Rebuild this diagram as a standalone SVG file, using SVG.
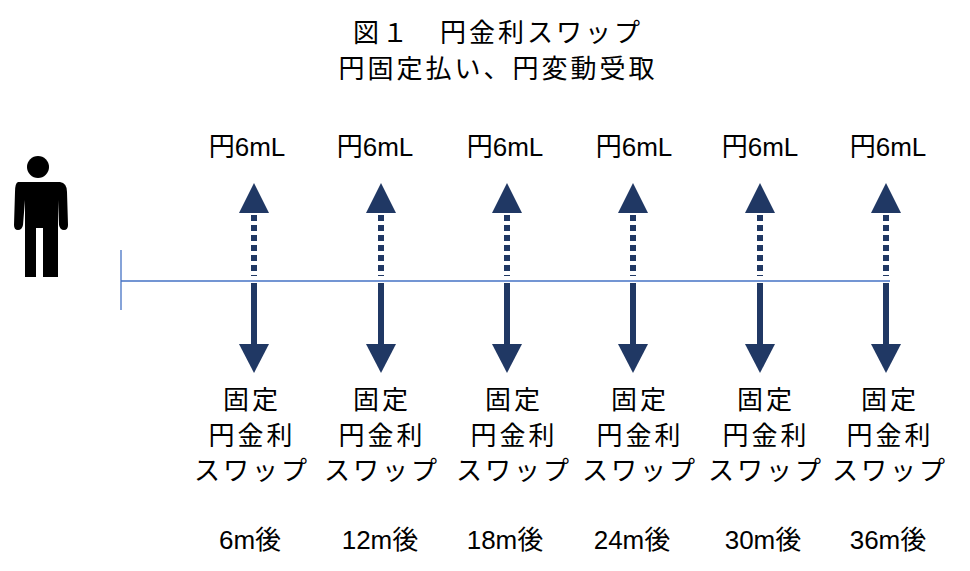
<svg xmlns="http://www.w3.org/2000/svg" width="970" height="571" viewBox="0 0 970 571">
<style>
text{font-family:"Liberation Sans","Noto Sans CJK JP",sans-serif;font-size:26px;fill:#000;text-anchor:middle}
.j{letter-spacing:3px}
.ar{fill:#203864}
.dash{stroke:#203864;stroke-width:6;stroke-dasharray:6,4}
.sol{stroke:#203864;stroke-width:6}
</style>
<rect width="970" height="571" fill="#fff"/>
<g id="title"><text class="j" x="498" y="42">図１　円金利スワップ</text><text class="j" x="498" y="78">円固定払い、円変動受取</text></g>
<g id="person" fill="#000">
<circle cx="38" cy="167" r="11"/>
<path d="M18 182 H60 Q67 183 67 192 L68 225 Q68 230 64 230 Q60 230 59 225 L58 200 V277 H43 V228 H36 V277 H25 V200 L23 225 Q22 230 18 230 Q14 230 14 225 L15 192 Q15 183 18 182 Z"/>
</g>
<g id="connectors">
<line x1="121" y1="250" x2="121" y2="310" stroke="#4472c4" stroke-width="1.3"/>
<line x1="121" y1="281" x2="890" y2="281" stroke="#4472c4" stroke-width="1.3"/>
</g>
<defs>
<g id="arr">
<polygon class="ar" points="0,183 15,213 -15,213"/>
<line class="dash" x1="0" y1="215" x2="0" y2="276"/>
<line class="sol" x1="0" y1="283" x2="0" y2="346"/>
<polygon class="ar" points="-15,344 15,344 0,373"/>
</g>
</defs>
<g id="n1"><use href="#arr" x="254"/><text x="247" y="156">円6mL</text><text class="j" x="252" y="409">固定</text><text class="j" x="252" y="445">円金利</text><text class="j" x="252" y="480">スワップ</text><text x="250" y="549">6m後</text></g>
<g id="n2"><use href="#arr" x="381"/><text x="375" y="156">円6mL</text><text class="j" x="382" y="409">固定</text><text class="j" x="382" y="445">円金利</text><text class="j" x="382" y="480">スワップ</text><text x="380" y="549">12m後</text></g>
<g id="n3"><use href="#arr" x="507"/><text x="505" y="156">円6mL</text><text class="j" x="514" y="409">固定</text><text class="j" x="514" y="445">円金利</text><text class="j" x="514" y="480">スワップ</text><text x="505" y="549">18m後</text></g>
<g id="n4"><use href="#arr" x="633"/><text x="634" y="156">円6mL</text><text class="j" x="640" y="409">固定</text><text class="j" x="640" y="445">円金利</text><text class="j" x="640" y="480">スワップ</text><text x="632" y="549">24m後</text></g>
<g id="n5"><use href="#arr" x="760"/><text x="760" y="156">円6mL</text><text class="j" x="766" y="409">固定</text><text class="j" x="766" y="445">円金利</text><text class="j" x="766" y="480">スワップ</text><text x="763" y="549">30m後</text></g>
<g id="n6"><use href="#arr" x="886"/><text x="888" y="156">円6mL</text><text class="j" x="890" y="409">固定</text><text class="j" x="890" y="445">円金利</text><text class="j" x="890" y="480">スワップ</text><text x="888" y="549">36m後</text></g>
</svg>
